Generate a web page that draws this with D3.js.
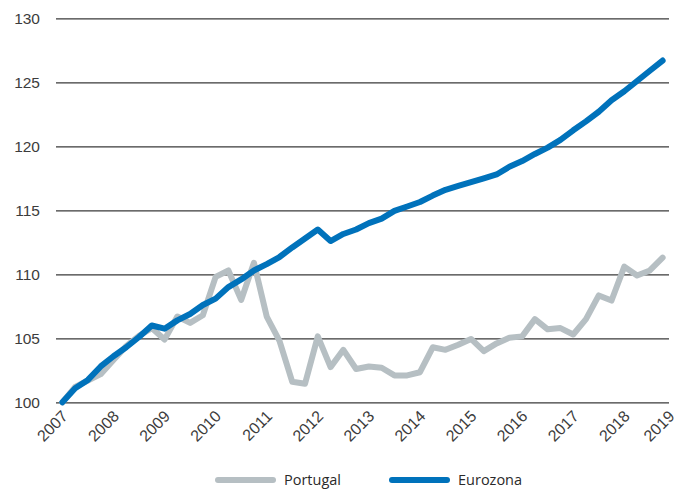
<!DOCTYPE html>
<html>
<head>
<meta charset="utf-8">
<script src="https://cdn.jsdelivr.net/npm/d3@7/dist/d3.min.js"></script>
<style>
  html, body { margin: 0; padding: 0; background: #fff; }
  svg { display: block; font-family: "Open Sans", "Noto Sans", sans-serif; }
</style>
</head>
<body>
<svg id="chart" width="688" height="491"></svg>
<script>
// Quarterly index, 2007 Q1 = 100
const years = ["2007","2008","2009","2010","2011","2012","2013","2014","2015","2016","2017","2018","2019"];
const yearPos = [0, 4, 8, 12, 16, 20, 24, 28, 32, 36, 40, 44, 47.5];
const yTicks = [100, 105, 110, 115, 120, 125, 130];

const portugal = [
  100.0, 101.2, 101.7, 102.2, 103.3, 104.4, 105.2, 105.8,
  104.9, 106.7, 106.2, 106.8, 109.8, 110.3, 108.0, 110.9,
  106.7, 104.8, 101.6, 101.45, 105.15, 102.75, 104.1, 102.6,
  102.8, 102.7, 102.1, 102.1, 102.35, 104.3, 104.1, 104.5,
  104.95, 104.0, 104.6, 105.05, 105.15, 106.5, 105.7, 105.8,
  105.3, 106.5, 108.35, 107.95, 110.6, 109.9, 110.3, 111.3
];
const eurozona = [
  100.0, 101.1, 101.75, 102.8, 103.6, 104.3, 105.1, 106.0,
  105.75, 106.4, 106.9, 107.6, 108.1, 109.0, 109.6, 110.3,
  110.8, 111.35, 112.1, 112.8, 113.5, 112.6, 113.15, 113.5,
  114.0, 114.35, 114.95, 115.3, 115.65, 116.15, 116.6, 116.9,
  117.2, 117.5, 117.8, 118.4, 118.85, 119.4, 119.9, 120.5,
  121.25, 121.95, 122.7, 123.6, 124.3, 125.1, 125.9, 126.7
];

const series = [
  { name: "Portugal", values: portugal, color: "#b6bfc3" },
  { name: "Eurozona", values: eurozona, color: "#0072bb" }
];

const svg = d3.select("#chart");
const plot = { left: 56, right: 669, top: 18.3, bottom: 402.3 };

// quarter index -> x (each quarter centred in its slot)
const x = d3.scaleLinear().domain([-0.5, portugal.length - 0.5]).range([plot.left, plot.right]);
const y = d3.scaleLinear().domain([100, 130]).range([plot.bottom, plot.top]);

// horizontal gridlines with value labels
const yAxis = d3.axisLeft(y).tickValues(yTicks).tickSize(-(plot.right - plot.left)).tickPadding(16).tickFormat(d3.format("d"));
const gy = svg.append("g").attr("transform", `translate(${plot.left},0)`).call(yAxis);
gy.select(".domain").remove();
gy.selectAll(".tick line").attr("stroke", "#3a3a3a").attr("stroke-width", 1.2);
gy.selectAll(".tick text").attr("fill", "#3c3c3c").attr("font-size", 15.5).attr("font-weight", 300);

// year labels, rotated so the top-right corner sits on the tick
const xAxis = d3.axisBottom(x).tickValues(yearPos).tickSize(0)
  .tickFormat((d, i) => years[i]);
const gx = svg.append("g").attr("transform", `translate(0,${plot.bottom})`).call(xAxis);
gx.select(".domain").remove();
gx.selectAll(".tick text")
  .attr("fill", "#3c3c3c").attr("font-size", 16).attr("font-weight", 300)
  .attr("text-anchor", "end").attr("dy", 0).attr("y", 0)
  .attr("transform", "translate(6,15) rotate(-45)");

// lines
const line = d3.line().x((d, i) => x(i)).y((d) => y(d));
svg.append("g").selectAll("path").data(series).join("path")
  .attr("d", (s) => line(s.values))
  .attr("fill", "none")
  .attr("stroke", (s) => s.color)
  .attr("stroke-width", 6)
  .attr("stroke-linejoin", "round")
  .attr("stroke-linecap", "round");

// legend
const legend = svg.append("g").attr("transform", "translate(0,480)");
const legendX = [218, 392];
const items = legend.selectAll("g").data(series).join("g")
  .attr("transform", (s, i) => `translate(${legendX[i]},0)`);
items.append("line").attr("x1", 0).attr("x2", 55).attr("y1", 0).attr("y2", 0)
  .attr("stroke", (s) => s.color).attr("stroke-width", 6).attr("stroke-linecap", "round");
items.append("text").attr("x", 66).attr("y", 0).attr("dy", "0.35em")
  .attr("font-size", 14.5).attr("fill", "#2a2a2a")
  .text((s) => s.name);
</script>
</body>
</html>
